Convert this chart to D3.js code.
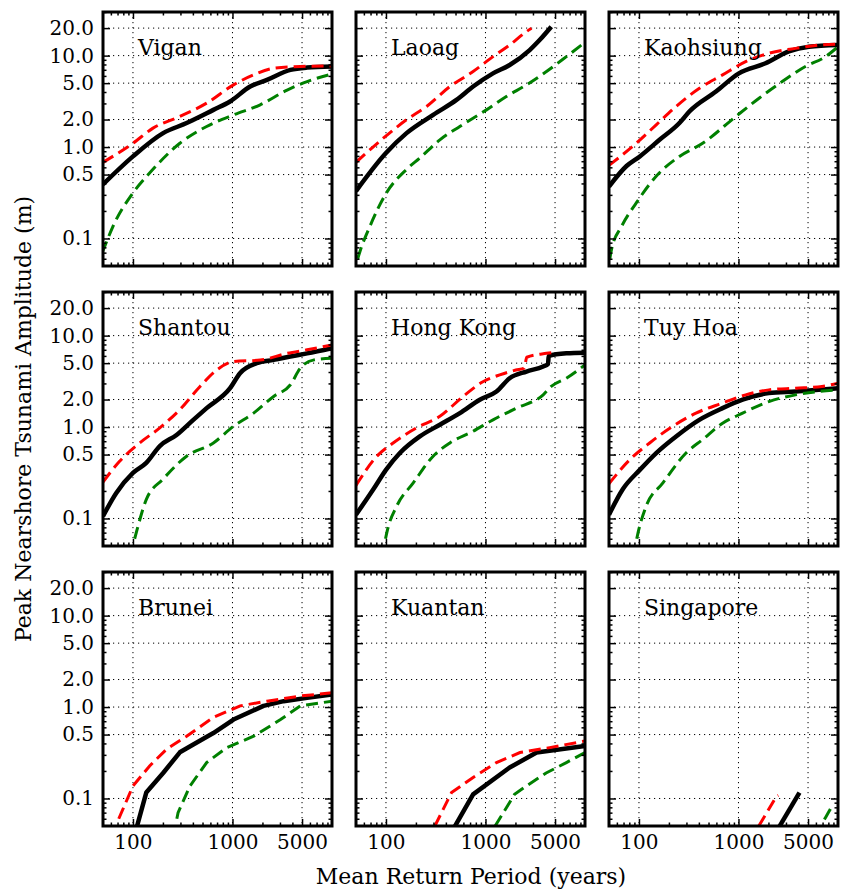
<!DOCTYPE html>
<html>
<head>
<meta charset="utf-8">
<script src="https://cdn.jsdelivr.net/npm/d3@7"></script>
<style>
  html, body { margin: 0; padding: 0; background: #fff; }
  svg { display: block; }
  text { font-family: "DejaVu Serif", serif; fill: #000; }
</style>
</head>
<body>
<svg id="chart" width="845" height="890"></svg>
<script>
// ---------------- data ----------------
const stations = ["Vigan", "Laoag", "Kaohsiung", "Shantou", "Hong Kong", "Tuy Hoa", "Brunei", "Kuantan", "Singapore"];

const xTickValues = [100, 1000, 5000];
const xTickLabels = ["100", "1000", "5000"];
const yTickValues = [0.1, 0.5, 1, 2, 5, 10, 20];
const yTickLabels = ["0.1", "0.5", "1.0", "2.0", "5.0", "10.0", "20.0"];
const xMinorTicks = [60, 70, 80, 90, 200, 300, 400, 500, 600, 700, 800, 900, 2000, 3000, 4000, 6000, 7000, 8000, 9000];
const yMinorTicks = [0.06, 0.07, 0.08, 0.09, 0.2, 0.3, 0.4, 0.6, 0.7, 0.8, 0.9, 3, 4, 6, 7, 8, 9, 30];

// median (black solid): [return period (years), amplitude (m)]
const medianCurves = [
  [[50,0.39],[100,0.79],[201,1.42],[346,1.83],[643,2.55],[946,3.15],[1506,4.59],[2222,5.43],[3820,6.98],[5620,7.4],[10000,7.6]],
  [[50,0.33],[100,0.86],[161,1.42],[298,2.25],[511,3.28],[751,4.59],[1190,6.4],[1750,7.9],[2780,11.5],[3500,14.8],[4580,20.7]],
  [[50,0.37],[75,0.62],[102,0.79],[161,1.2],[255,1.83],[321,2.45],[594,4.05],[1010,6.4],[1870,8.25],[3210,11.1],[5100,12.5],[10000,13.1]],
  [[50,0.106],[68,0.19],[100,0.315],[136,0.405],[186,0.62],[274,0.82],[404,1.2],[550,1.61],[946,2.66],[1190,3.88],[1750,4.99],[2590,5.43],[3810,5.9],[5620,6.4],[10000,7.3]],
  [[50,0.11],[75,0.21],[100,0.34],[138,0.52],[219,0.79],[348,1.06],[553,1.42],[877,1.99],[1290,2.45],[1750,3.42],[2580,4.05],[3800,4.59],[4250,4.9],[4320,6.0],[6500,6.4],[10000,6.5]],
  [[50,0.11],[69,0.21],[102,0.34],[149,0.52],[236,0.79],[404,1.2],[692,1.61],[1100,1.99],[2020,2.35],[3740,2.45],[10000,2.66]],
  [[104,0.04],[136,0.116],[201,0.19],[296,0.32],[404,0.39],[643,0.52],[1024,0.73],[2050,1.03],[3270,1.16],[5620,1.26],[10000,1.37]],
  [[440,0.04],[751,0.111],[1750,0.218],[3260,0.318],[10000,0.376]],
  [[2300,0.04],[4100,0.116]]
];

// upper bound (red dashed)
const upperCurves = [
  [[50,0.68],[100,1.1],[159,1.61],[296,2.16],[550,3.02],[1024,4.79],[1630,6.15],[2593,7.28],[4800,7.6],[10000,7.7]],
  [[50,0.68],[94,1.25],[161,1.99],[256,2.78],[439,4.59],[751,6.7],[1190,9.75],[1750,13.1],[2580,18.3],[2900,19.9]],
  [[50,0.63],[94,1.1],[149,1.75],[236,2.78],[405,4.4],[692,6.15],[1180,8.6],[2020,10.6],[3740,12.0],[6900,13.1],[10000,13.3]],
  [[50,0.25],[73,0.42],[117,0.67],[186,0.98],[296,1.55],[472,2.78],[693,4.2],[1024,5.2],[1900,5.4],[3540,6.4],[5620,7.0],[10000,7.9]],
  [[50,0.23],[81,0.48],[118,0.67],[203,0.98],[348,1.31],[596,2.16],[952,3.15],[1390,3.72],[2020,4.2],[2450,4.4],[2600,5.8],[4100,6.4],[5100,6.6]],
  [[50,0.24],[81,0.44],[128,0.67],[219,1.02],[374,1.42],[692,1.83],[1180,2.25],[2020,2.55],[3740,2.66],[6900,2.78],[10000,3.02]],
  [[72,0.06],[100,0.137],[147,0.227],[217,0.345],[346,0.48],[643,0.77],[1195,1.03],[2220,1.16],[4800,1.32],[10000,1.43]],
  [[310,0.05],[456,0.116],[751,0.17],[1290,0.247],[2220,0.318],[4420,0.36],[10000,0.425]],
  [[1600,0.05],[2400,0.105],[2510,0.108]]
];

// lower bound (green dashed)
const lowerCurves = [
  [[49,0.07],[52,0.082],[63,0.136],[100,0.315],[147,0.52],[296,1.1],[550,1.68],[1024,2.25],[1900,2.9],[3540,4.2],[5620,5.2],[10000,6.3]],
  [[52,0.06],[55,0.073],[69,0.136],[101,0.315],[161,0.57],[219,0.76],[348,1.2],[552,1.68],[1023,2.55],[1620,3.57],[2580,4.79],[4100,6.7],[6500,9.75],[10000,14]],
  [[51,0.06],[53,0.076],[67,0.136],[94,0.245],[149,0.48],[255,0.79],[436,1.1],[940,2.16],[1610,3.42],[2750,5.2],[4700,7.6],[7500,9.75],[10000,12.5]],
  [[104,0.06],[108,0.07],[136,0.161],[201,0.27],[346,0.48],[643,0.67],[1024,1.02],[1630,1.42],[2590,2.16],[3820,2.9],[4800,4.4],[6590,5.43],[10000,5.66]],
  [[99,0.06],[102,0.07],[128,0.136],[188,0.245],[298,0.48],[439,0.67],[751,0.9],[1190,1.2],[2050,1.61],[3800,2.25],[4580,2.78],[6500,3.42],[10000,4.79]],
  [[95,0.06],[98,0.07],[118,0.136],[174,0.245],[297,0.52],[436,0.73],[692,1.1],[1100,1.42],[2020,1.9],[3740,2.25],[10000,2.55]],
  [[276,0.06],[284,0.07],[374,0.137],[550,0.247],[874,0.36],[1630,0.48],[3040,0.73],[4800,1.03],[10000,1.16]],
  [[1250,0.05],[1960,0.111],[2580,0.137],[4070,0.19],[6500,0.247],[10000,0.318]],
  [[7300,0.059],[8800,0.084]]
];

// ---------------- layout ----------------
const colLeft = [103, 356, 609];
const rowTop = [12, 292, 572];
const pw = 229, ph = 254;
// stations whose curves are piecewise straight in the original
const angular = new Set([6, 7, 8]);

const svg = d3.select("#chart");

const x = d3.scaleLog().domain([50, 10000]).range([0, pw]);
const y = d3.scaleLog().domain([0.05, 30]).range([ph, 0]);

const smoothLine = d3.line().x(d => x(d[0])).y(d => y(d[1])).curve(d3.curveMonotoneX);
const straightLine = d3.line().x(d => x(d[0])).y(d => y(d[1])).curve(d3.curveLinear);

const defs = svg.append("defs");
defs.append("clipPath").attr("id", "clip")
  .append("rect").attr("x", 0).attr("y", 0).attr("width", pw).attr("height", ph);

stations.forEach((name, i) => {
  const col = i % 3, row = Math.floor(i / 3);
  const g = svg.append("g").attr("transform", `translate(${colLeft[col]},${rowTop[row]})`);
  const line = angular.has(i) ? straightLine : smoothLine;

  // grid
  const grid = g.append("g").attr("class", "grid");
  grid.selectAll("line.gx").data(xTickValues).enter().append("line")
    .attr("x1", d => x(d)).attr("x2", d => x(d)).attr("y1", 0).attr("y2", ph)
    .attr("stroke", "#000").attr("stroke-width", 1).attr("stroke-dasharray", "1.2,3.8");
  grid.selectAll("line.gy").data(yTickValues).enter().append("line")
    .attr("y1", d => y(d)).attr("y2", d => y(d)).attr("x1", 0).attr("x2", pw)
    .attr("stroke", "#000").attr("stroke-width", 1).attr("stroke-dasharray", "1.2,3.8");

  // data lines
  const plot = g.append("g").attr("clip-path", "url(#clip)");
  plot.append("path").datum(medianCurves[i]).attr("d", line)
    .attr("fill", "none").attr("stroke", "#000").attr("stroke-width", 4.5)
    .attr("stroke-linejoin", "round");
  plot.append("path").datum(upperCurves[i]).attr("d", line)
    .attr("fill", "none").attr("stroke", "#ff0000").attr("stroke-width", 3)
    .attr("stroke-dasharray", "12,6");
  plot.append("path").datum(lowerCurves[i]).attr("d", line)
    .attr("fill", "none").attr("stroke", "#008000").attr("stroke-width", 3)
    .attr("stroke-dasharray", "12,6");

  // ticks (inward, all four sides)
  const showY = col === 0, showX = row === 2;
  const axL = d3.axisLeft(y).tickValues(yTickValues).tickSize(-7).tickPadding(9)
    .tickFormat((d, k) => showY ? yTickLabels[k] : "");
  const axR = d3.axisRight(y).tickValues(yTickValues).tickSize(-7).tickFormat("");
  const axB = d3.axisBottom(x).tickValues(xTickValues).tickSize(-7).tickPadding(9)
    .tickFormat((d, k) => showX ? xTickLabels[k] : "");
  const axT = d3.axisTop(x).tickValues(xTickValues).tickSize(-7).tickFormat("");
  const mL = d3.axisLeft(y).tickValues(yMinorTicks).tickSize(-3.5).tickFormat("");
  const mR = d3.axisRight(y).tickValues(yMinorTicks).tickSize(-3.5).tickFormat("");
  const mB = d3.axisBottom(x).tickValues(xMinorTicks).tickSize(-3.5).tickFormat("");
  const mT = d3.axisTop(x).tickValues(xMinorTicks).tickSize(-3.5).tickFormat("");

  const ax = g.append("g").attr("class", "axes");
  ax.append("g").call(axL);
  ax.append("g").attr("transform", `translate(${pw},0)`).call(axR);
  ax.append("g").attr("transform", `translate(0,${ph})`).call(axB);
  ax.append("g").call(axT);
  ax.append("g").call(mL);
  ax.append("g").attr("transform", `translate(${pw},0)`).call(mR);
  ax.append("g").attr("transform", `translate(0,${ph})`).call(mB);
  ax.append("g").call(mT);
  ax.selectAll(".domain").remove();
  ax.selectAll(".tick line").attr("stroke", "#000").attr("stroke-width", 1.5);
  ax.selectAll(".tick text")
    .style("font-family", "'DejaVu Serif', serif").style("font-size", "20px").attr("fill", "#000");

  // frame
  g.append("rect").attr("x", 0).attr("y", 0).attr("width", pw).attr("height", ph)
    .attr("fill", "none").attr("stroke", "#000").attr("stroke-width", 3);

  // station label
  g.append("text").attr("x", 35).attr("y", 43)
    .style("font-size", "22px").text(name);
});

// axis titles
svg.append("text")
  .attr("x", 471).attr("y", 884).attr("text-anchor", "middle")
  .style("font-size", "22px").text("Mean Return Period (years)");
svg.append("text")
  .attr("transform", "translate(31,419) rotate(-90)").attr("text-anchor", "middle")
  .style("font-size", "22px").text("Peak Nearshore Tsunami Amplitude (m)");
</script>
</body>
</html>
